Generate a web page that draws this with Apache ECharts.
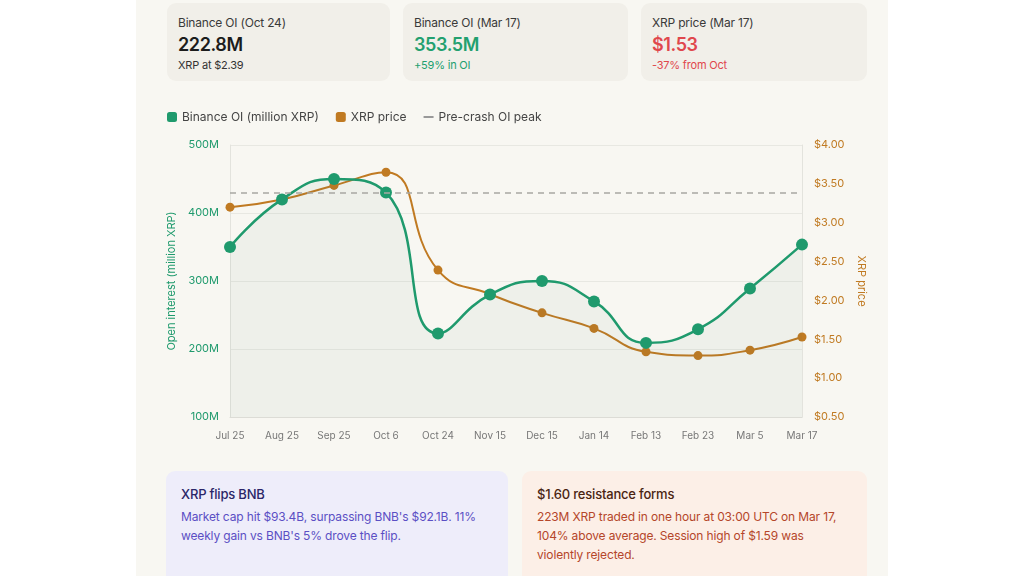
<!DOCTYPE html>
<html><head><meta charset="utf-8">
<script src="https://cdn.jsdelivr.net/npm/echarts@6/dist/echarts.min.js"></script>
<style>
html,body{margin:0;padding:0;background:#ffffff;width:1024px;height:576px;overflow:hidden;font-family:Inter,"Noto Sans",sans-serif;}
#panel{position:absolute;left:136px;top:0;width:752px;height:576px;background:#f8f7f2;}
#chart{position:absolute;left:0;top:0;width:1024px;height:576px;}
.card{position:absolute;border-radius:9px;box-sizing:border-box;}
.top{top:3px;height:78px;background:#f1efe9;padding:0 11px;}
.lab{position:absolute;left:11px;top:12px;font-size:12px;color:#3a3a3a;letter-spacing:-0.2px;}
.val{position:absolute;left:11px;top:31px;font-size:18px;font-weight:600;color:#1c1c1c;letter-spacing:-0.4px;}
.sub{position:absolute;left:11px;top:55px;font-size:11px;color:#333;letter-spacing:-0.2px;}
.bot{top:471px;height:130px;padding:15px 15px;}
.bt{font-size:13px;font-weight:500;margin-bottom:5px;letter-spacing:-0.2px;}
.bb{font-size:12px;line-height:19px;letter-spacing:-0.15px;}
</style></head>
<body>
<div id="panel"></div>
<div id="chart"></div>
<div class="card top" style="left:167px;width:223px;">
  <div class="lab">Binance OI (Oct 24)</div>
  <div class="val">222.8M</div>
  <div class="sub">XRP at $2.39</div>
</div>
<div class="card top" style="left:403px;width:225px;">
  <div class="lab">Binance OI (Mar 17)</div>
  <div class="val" style="color:#22a06f;">353.5M</div>
  <div class="sub" style="color:#22a06f;">+59% in OI</div>
</div>
<div class="card top" style="left:641px;width:226px;">
  <div class="lab">XRP price (Mar 17)</div>
  <div class="val" style="color:#e0474c;">$1.53</div>
  <div class="sub" style="color:#e0474c;">-37% from Oct</div>
</div>
<div class="card bot" style="left:166px;width:342px;background:#eeedfa;">
  <div class="bt" style="color:#2b2668;">XRP flips BNB</div>
  <div class="bb" style="color:#5b4fc4;">Market cap hit $93.4B, surpassing BNB's $92.1B. 11%<br>weekly gain vs BNB's 5% drove the flip.</div>
</div>
<div class="card bot" style="left:522px;width:345px;background:#fcefe7;">
  <div class="bt" style="color:#4a2412;">$1.60 resistance forms</div>
  <div class="bb" style="color:#b5462a;">223M XRP traded in one hour at 03:00 UTC on Mar 17,<br>104% above average. Session high of $1.59 was<br>violently rejected.</div>
</div>
<script>
const categories = ["Jul 25","Aug 25","Sep 25","Oct 6","Oct 24","Nov 15","Dec 15","Jan 14","Feb 13","Feb 23","Mar 5","Mar 17"];
const oiValues = [350, 420, 450, 430, 222.8, 280, 300, 270, 209, 229, 289, 353.5];
const priceValues = [3.20, 3.30, 3.48, 3.65, 2.39, 2.08, 1.84, 1.64, 1.34, 1.29, 1.36, 1.53];
const preCrashPeak = 430;

const GREEN = '#1f9a6d', ORANGE = '#c07a22';
const chart = echarts.init(document.getElementById('chart'), null, {renderer:'canvas'});
chart.setOption({
  animation:false,
  textStyle:{fontFamily:'Inter, "Noto Sans", sans-serif'},
  legend:{
    left:162, top:106, itemWidth:10, itemHeight:10, itemGap:17,
    textStyle:{fontSize:12, color:'#444'},
    data:[
      {name:'Binance OI (million XRP)', icon:'roundRect', itemStyle:{color:GREEN}},
      {name:'XRP price', icon:'roundRect', itemStyle:{color:ORANGE}},
      {name:'Pre-crash OI peak', icon:'path://M0,4 L10,4 L10,6 L0,6 Z', itemStyle:{color:'#999'}}
    ]
  },
  grid:{left:230, right:222, top:145, bottom:159},
  xAxis:{
    type:'category', data:categories, boundaryGap:false,
    axisLine:{lineStyle:{color:'#dcdcd6'}}, axisTick:{show:false},
    axisLabel:{color:'#777', fontSize:10, margin:14}
  },
  yAxis:[
    {type:'value', min:100, max:500, interval:100, position:'left',
     name:'Open interest (million XRP)', nameLocation:'middle', nameGap:49,
     nameTextStyle:{color:GREEN, fontSize:11},
     axisLine:{show:true, lineStyle:{color:'#e3e3dd'}}, axisTick:{show:false},
     axisLabel:{color:GREEN, fontSize:11, formatter:'{value}M', margin:11},
     splitLine:{lineStyle:{color:'#e8e8e2'}}},
    {type:'value', min:0.5, max:4, interval:0.5, position:'right',
     name:'XRP price', nameLocation:'middle', nameGap:46, nameRotate:-90,
     nameTextStyle:{color:ORANGE, fontSize:11},
     axisLine:{show:true, lineStyle:{color:'#e3e3dd'}}, axisTick:{show:false},
     axisLabel:{color:ORANGE, fontSize:11, margin:12, formatter:v=>'$'+v.toFixed(2)},
     splitLine:{show:false}}
  ],
  series:[
    {name:'XRP price', type:'line', yAxisIndex:1, data:priceValues, smooth:true, z:2,
     symbol:'circle', symbolSize:9, lineStyle:{color:ORANGE, width:2}, itemStyle:{color:ORANGE}},
    {name:'Binance OI (million XRP)', type:'line', yAxisIndex:0, data:oiValues, smooth:true, z:3,
     symbol:'circle', symbolSize:12, lineStyle:{color:GREEN, width:2.5}, itemStyle:{color:GREEN},
     areaStyle:{color:'rgba(60,120,90,0.07)'}},
    {name:'Pre-crash OI peak', type:'line', yAxisIndex:0, data:[], z:1,
     itemStyle:{color:'#999'},
     markLine:{silent:true, symbol:'none', label:{show:false},
       lineStyle:{color:'#a8a8a2', type:[6,5], width:1.5},
       data:[{yAxis:preCrashPeak}]}}
  ]
});
</script>
</body></html>
